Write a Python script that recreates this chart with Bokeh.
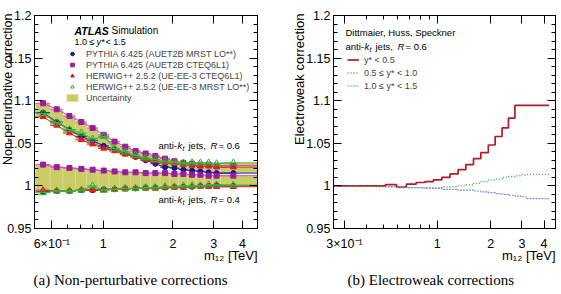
import math
from bokeh.plotting import figure
from bokeh.layouts import row
from bokeh.models import (Range1d, LinearAxis, LogAxis, FixedTicker, CustomJSTickFormatter,
                          Label, Legend, LegendItem, ColumnDataSource, Title)
from bokeh.embed import file_html
from bokeh.resources import INLINE

# ---------------- data: non-perturbative corrections (1.0 <= y* < 1.5) ----------------
np_edges = [0.51, 0.59, 0.67, 0.76, 0.85, 0.95, 1.06, 1.18, 1.31, 1.45, 1.6, 1.76, 1.94,
            2.12, 2.32, 2.52, 2.74, 2.97, 3.21, 4.64]
np_centers = [0.55, 0.63, 0.715, 0.805, 0.90, 1.005, 1.12, 1.245, 1.38, 1.525, 1.68, 1.85,
              2.03, 2.22, 2.42, 2.63, 2.855, 3.09, 3.65]

py_cteq_r06 = [1.097, 1.090, 1.082, 1.075, 1.068, 1.060, 1.052, 1.046, 1.041, 1.038, 1.035,
               1.032, 1.029, 1.027, 1.026, 1.025, 1.025, 1.024, 1.024]
py_mrst_r06 = [1.086, 1.075, 1.066, 1.058, 1.053, 1.047, 1.043, 1.038, 1.034, 1.030, 1.026,
               1.022, 1.021, 1.019, 1.018, 1.017, 1.016, 1.015, 1.015]
hw_cteq_r06 = [1.081, 1.071, 1.062, 1.054, 1.049, 1.044, 1.041, 1.037, 1.034, 1.031, 1.029,
               1.027, 1.026, 1.025, 1.024, 1.023, 1.023, 1.022, 1.022]
hw_mrst_r06 = [1.085, 1.074, 1.066, 1.062, 1.055, 1.058, 1.044, 1.040, 1.036, 1.033, 1.031,
               1.029, 1.028, 1.027, 1.027, 1.027, 1.027, 1.026, 1.027]

py_cteq_r04 = [1.025, 1.022, 1.021, 1.020, 1.019, 1.018, 1.017, 1.016, 1.016, 1.015, 1.015,
               1.015, 1.014, 1.014, 1.013, 1.013, 1.012, 1.012, 1.012]
py_mrst_r04 = [0.993, 0.994, 0.994, 0.995, 0.995, 0.996, 0.996, 0.997, 0.997, 0.998, 0.998,
               0.998, 0.999, 0.999, 0.999, 1.000, 1.000, 1.001, 1.000]
hw_cteq_r04 = [0.995, 0.994, 0.994, 0.995, 0.995, 0.995, 0.996, 0.996, 0.997, 0.997, 0.997,
               0.998, 0.998, 0.998, 0.999, 0.999, 0.999, 0.999, 0.999]
hw_mrst_r04 = [0.992, 0.994, 0.994, 0.995, 1.000, 0.995, 0.996, 0.997, 0.997, 0.998, 0.998,
               0.999, 0.999, 1.000, 1.000, 1.000, 1.001, 1.001, 1.001]

np_labels = ["PYTHIA 6.425 (AUET2B MRST LO**)", "PYTHIA 6.425 (AUET2B CTEQ6L1)",
             "HERWIG++ 2.5.2 (UE-EE-3 CTEQ6L1)", "HERWIG++ 2.5.2 (UE-EE-3 MRST LO**)",
             "Uncertainty"]

# ---------------- data: electroweak corrections ----------------
ew_edges = [0.26, 0.31, 0.37, 0.44, 0.51, 0.59, 0.67, 0.76, 0.85, 0.95, 1.06, 1.18, 1.31,
            1.45, 1.6, 1.76, 1.94, 2.12, 2.32, 2.52, 2.74, 2.97, 3.21, 3.46, 3.73, 4.02, 4.27]
ew_y05 = [1.000, 1.000, 1.000, 1.000, 1.0015, 0.9985, 1.002, 1.004, 1.005, 1.007, 1.010,
          1.014, 1.019, 1.025, 1.032, 1.039, 1.048, 1.058, 1.068, 1.0795, 1.0945, 1.0945,
          1.0945, 1.0945, 1.0945, 1.0945]
ew_y10 = [1.000, 1.000, 0.999, 0.999, 0.998, 0.998, 0.998, 0.998, 0.998, 0.999, 0.999, 1.000,
          1.001, 1.003, 1.005, 1.007, 1.008, 1.010, 1.011, 1.012, 1.013, 1.0135, 1.0135,
          1.0135, 1.0135]
ew_y15 = [0.999, 0.998, 0.998, 0.998, 0.997, 0.997, 0.996, 0.996, 0.995, 0.995, 0.994, 0.993,
          0.992, 0.991, 0.990, 0.989, 0.988, 0.987, 0.985, 0.985, 0.985, 0.985]
ew_labels = ["y* < 0.5", "0.5 ≤ y* < 1.0", "1.0 ≤ y* < 1.5"]

# ---------------- axes configuration ----------------
y_ticks = [0.95, 1.0, 1.05, 1.1, 1.15, 1.2]
y_tick_labels = ["0.95", "1", "1.05", "1.1", "1.15", "1.2"]
y_minor = [round(0.95 + 0.01 * i, 2) for i in range(26)]
xl_ticks = [0.6, 1, 2, 3, 4]
xl_tick_labels = ["6×10⁻¹", "1", "2", "3", "4"]
xl_minor = [0.7, 0.8, 0.9]
xr_ticks = [0.3, 1, 2, 3, 4]
xr_tick_labels = ["3×10⁻¹", "1", "2", "3", "4"]
xr_minor = [0.4, 0.5, 0.6, 0.7, 0.8, 0.9]
x_title = "m₁₂ [TeV]"

FONT = "Liberation Sans"
FRAME_TOP, FRAME_H = 15, 213


def tick_style(ax):
    ax.axis_line_color = "black"
    ax.major_tick_in = 8
    ax.major_tick_out = 0
    ax.minor_tick_in = 4
    ax.minor_tick_out = 0
    ax.major_tick_line_color = "black"
    ax.minor_tick_line_color = "black"
    ax.major_label_text_font = FONT
    ax.major_label_text_font_size = "12.5px"
    ax.major_label_text_color = "black"


def style(p, xt, xlabels, xminor, ytitle, ysize, ystandoff, caption, cap_offset):
    p.grid.visible = False
    p.outline_line_color = "black"
    p.outline_line_width = 1
    p.background_fill_color = "white"
    p.border_fill_color = "white"
    yt = FixedTicker(ticks=y_ticks, minor_ticks=y_minor)
    xtk = FixedTicker(ticks=xt, minor_ticks=xminor)
    ya = p.left[0]
    xa = p.below[0]
    ya.ticker = yt
    ya.major_label_overrides = dict(zip(y_ticks, y_tick_labels))
    xa.ticker = xtk
    xa.major_label_overrides = dict(zip(xt, xlabels))
    tick_style(ya)
    tick_style(xa)
    blank = CustomJSTickFormatter(code="return ''")
    ra = LinearAxis(ticker=yt, formatter=blank, major_label_standoff=0)
    ta = LogAxis(ticker=xtk, formatter=blank, major_label_standoff=0)
    tick_style(ra)
    tick_style(ta)
    p.add_layout(ra, "right")
    p.add_layout(ta, "above")
    ya.major_label_standoff = 3
    xa.major_label_standoff = 8
    # y-axis title, right-aligned at the top of the frame
    p.add_layout(Title(text=ytitle, align="right", offset=-2, standoff=ystandoff,
                       text_font=FONT, text_font_size=ysize, text_font_style="normal",
                       text_color="black"), "left")
    # x-axis title, right-aligned at the right of the frame
    p.add_layout(Title(text=x_title, align="right", offset=0, standoff=-11,
                       vertical_align="top",
                       text_font=FONT, text_font_size="13px", text_font_style="normal",
                       text_color="black"), "below")
    # sub-figure caption
    p.add_layout(Title(text=caption, align="left", offset=cap_offset, standoff=20,
                       text_font="Liberation Serif", text_font_size="15px",
                       text_font_style="normal", text_color="black"), "below")


def lab(p, fl, cx, cy, text, size, **kw):
    opts = dict(x_units="screen", y_units="screen", text_font=FONT,
                text_font_size=size, text_color="black", text_baseline="middle")
    opts.update(kw)
    p.add_layout(Label(x=cx - fl, y=FRAME_TOP + FRAME_H - cy, text=text, **opts))


# ======================= left panel =======================
FL1 = 34
p1 = figure(frame_width=223, frame_height=FRAME_H, x_axis_type="log",
            x_range=Range1d(0.505, 4.64), y_range=Range1d(0.95, 1.2),
            min_border_left=FL1, min_border_right=23, min_border_top=FRAME_TOP,
            min_border_bottom=66, toolbar_location=None, output_backend="svg")
style(p1, xl_ticks, xl_tick_labels, xl_minor, "Non-perturbative correction", "12.5px", -20,
      "(a) Non-perturbative corrections", -1)

band_color = "#cbcb68"
lo_edges = np_edges[:-1]
hi_edges = np_edges[1:]
bands = []
for group in ([py_cteq_r06, py_mrst_r06, hw_cteq_r06, hw_mrst_r06],
              [py_cteq_r04, py_mrst_r04, hw_cteq_r04, hw_mrst_r04]):
    lower = [min(v) for v in zip(*group)]
    upper = [max(v) for v in zip(*group)]
    src = ColumnDataSource(dict(left=lo_edges, right=hi_edges, bottom=lower, top=upper))
    bands.append(p1.quad(left="left", right="right", bottom="bottom", top="top", source=src,
                         fill_color=band_color, line_color="#dede9e", line_width=0.6))

series = [
    ("mrst_py", py_mrst_r06, py_mrst_r04, "#15159a", "#2a2ab0", "circle", 5, True),
    ("cteq_py", py_cteq_r06, py_cteq_r04, "#991e99", "#d050d0", "square", 5, True),
    ("cteq_hw", hw_cteq_r06, hw_cteq_r04, "#d81e1e", "#e03030", "triangle", 6, True),
    ("mrst_hw", hw_mrst_r06, hw_mrst_r04, "#2db52d", "#3cbf3c", "triangle", 7, False),
]
legend_renderers = {}
for name, v06, v04, mcol, lcol, marker, size, filled in series:
    for vals in (v06, v04):
        p1.line(np_centers, vals, line_color=lcol, line_width=1.1)
        p1.segment(x0=lo_edges, x1=hi_edges, y0=vals, y1=vals, line_color=lcol, line_width=1)
        r = p1.scatter(np_centers, vals, marker=marker, size=size,
                       fill_color=mcol if filled else None, line_color=mcol, line_width=1)
        legend_renderers.setdefault(name, r)

leg1 = Legend(items=[
    LegendItem(label=np_labels[0], renderers=[legend_renderers["mrst_py"]]),
    LegendItem(label=np_labels[1], renderers=[legend_renderers["cteq_py"]]),
    LegendItem(label=np_labels[2], renderers=[legend_renderers["cteq_hw"]]),
    LegendItem(label=np_labels[3], renderers=[legend_renderers["mrst_hw"]]),
    LegendItem(label=np_labels[4], renderers=[bands[0]]),
], location=(31, 125), glyph_width=14, glyph_height=9, label_height=11, spacing=0,
    padding=0, margin=0, label_standoff=7, border_line_color=None,
    background_fill_alpha=0, label_text_font=FONT, label_text_font_size="9px")
p1.add_layout(leg1)

lab(p1, FL1, 74, 30, "ATLAS", "10.5px", text_font_style="bold italic")
lab(p1, FL1, 111, 30, "Simulation", "10px")
lab(p1, FL1, 74, 41.5, "1.0 ≤", "9px")
lab(p1, FL1, 96, 41.5, "y*", "9px", text_font_style="italic")
lab(p1, FL1, 105, 41.5, "< 1.5", "9px")
for cy, rtxt in ((145, "= 0.6"), (199, "= 0.4")):
    lab(p1, FL1, 158, cy, "anti-", "9.5px")
    lab(p1, FL1, 177, cy, "k", "9.5px", text_font_style="italic")
    lab(p1, FL1, 182, cy + 2.5, "t", "7px", text_font_style="italic")
    lab(p1, FL1, 188, cy, "jets,", "9.5px")
    lab(p1, FL1, 210, cy, "R", "9.5px", text_font_style="italic")
    lab(p1, FL1, 218, cy, rtxt, "9.5px")

# ======================= right panel =======================
FL2 = 53
p2 = figure(frame_width=222, frame_height=FRAME_H, x_axis_type="log",
            x_range=Range1d(0.26, 4.64), y_range=Range1d(0.95, 1.2),
            min_border_left=FL2, min_border_right=6, min_border_top=FRAME_TOP,
            min_border_bottom=66, toolbar_location=None, output_backend="svg")
style(p2, xr_ticks, xr_tick_labels, xr_minor, "Electroweak correction", "13px", -6,
      "(b) Electroweak corrections", 14)

r05 = p2.step(ew_edges, ew_y05 + [ew_y05[-1]], mode="after", line_color="#b01c28",
              line_width=1.7)
r10 = p2.step(ew_edges[1:], ew_y10 + [ew_y10[-1]], mode="after", line_color="#2fae2f",
              line_width=1.4, line_dash="1 2")
r15 = p2.step(ew_edges[4:], ew_y15 + [ew_y15[-1]], mode="after", line_color="#8a8ad8",
              line_width=1.2, line_dash="2 1")

leg2 = Legend(items=[LegendItem(label=ew_labels[0], renderers=[r05]),
                     LegendItem(label=ew_labels[1], renderers=[r10]),
                     LegendItem(label=ew_labels[2], renderers=[r15])],
              location=(14, 136), glyph_width=12, glyph_height=9, label_height=13, spacing=0,
              padding=0, margin=0, label_standoff=5, border_line_color=None,
              background_fill_alpha=0, label_text_font=FONT, label_text_font_size="9px")
p2.add_layout(leg2)

lab(p2, 280 + FL2, 345, 32, "Dittmaier, Huss, Speckner", "9.5px")
lab(p2, 280 + FL2, 345, 46, "anti-", "9.5px")
lab(p2, 280 + FL2, 364, 46, "k", "9.5px", text_font_style="italic")
lab(p2, 280 + FL2, 369, 48.5, "t", "7px", text_font_style="italic")
lab(p2, 280 + FL2, 375, 46, "jets,", "9.5px")
lab(p2, 280 + FL2, 397, 46, "R", "9.5px", text_font_style="italic")
lab(p2, 280 + FL2, 405, 46, "= 0.6", "9.5px")

layout = row(p1, p2, spacing=0)
open("out.html", "w").write(file_html(layout, INLINE))
